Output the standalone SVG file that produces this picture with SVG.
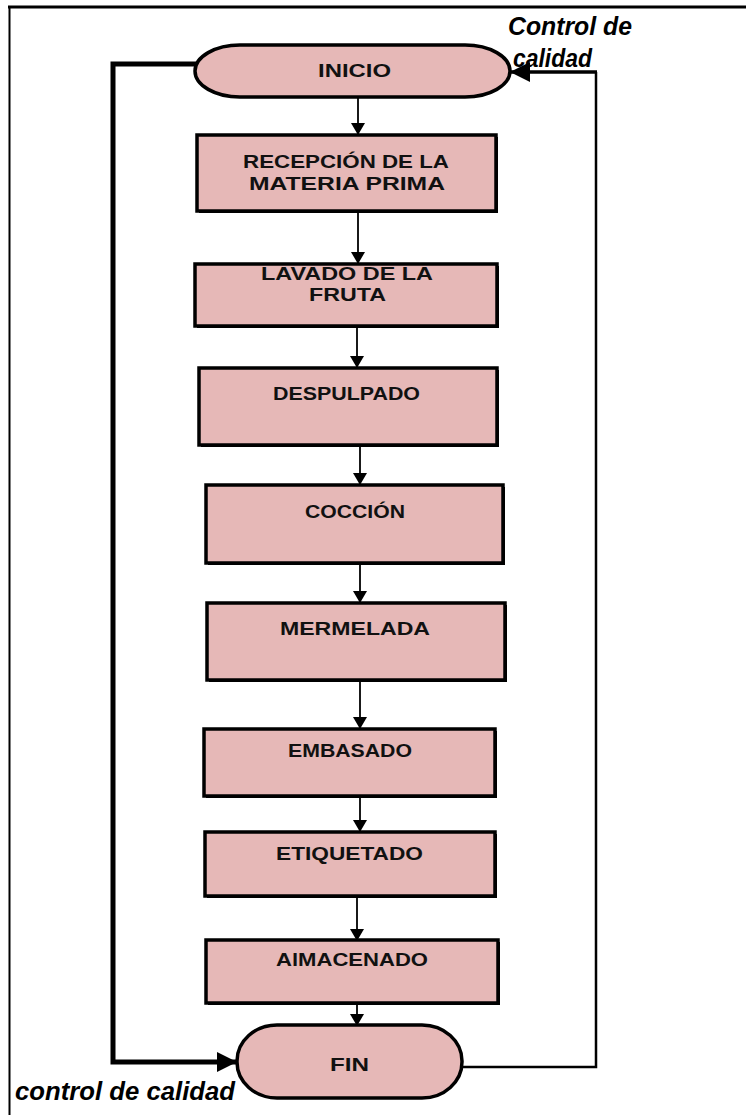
<svg xmlns="http://www.w3.org/2000/svg" width="746" height="1115" viewBox="0 0 746 1115">
<style>
.box{fill:#E6B8B7;stroke:#000;stroke-width:3.5}
.shadow{fill:#000}
.term{fill:#E6B8B7;stroke:#000;stroke-width:3.5}
.lbl{font-family:"Liberation Sans",Arial,sans-serif;font-weight:bold;font-size:19px;fill:#111}
.note{font-family:"Liberation Sans",Arial,sans-serif;font-weight:bold;font-style:italic;font-size:25px;fill:#000}
.conn{fill:none;stroke:#000;stroke-width:1.8}
.frame{stroke:#000;fill:none}
</style>
<defs>
<marker id="ah" viewBox="0 0 12 14" refX="12" refY="7" markerWidth="12" markerHeight="14" markerUnits="userSpaceOnUse" orient="auto">
<path d="M0,0 L12,7 L0,14 Z" fill="#000"/>
</marker>
<marker id="ahBig" viewBox="0 0 20 20" refX="20" refY="10" markerWidth="20" markerHeight="20" markerUnits="userSpaceOnUse" orient="auto">
<path d="M0,0 L20,10 L0,20 Z" fill="#000"/>
</marker>
</defs>
<rect width="746" height="1115" fill="#fff"/>
<g id="frame">
<line class="frame" x1="8" y1="7" x2="746" y2="7" stroke-width="3"/>
<line class="frame" x1="9.5" y1="6" x2="9.5" y2="1115" stroke-width="2"/>
</g>
<g id="connectors">
<path class="conn" d="M358,97 V135" marker-end="url(#ah)"/>
<path class="conn" d="M358,211 V264" marker-end="url(#ah)"/>
<path class="conn" d="M357,326 V368" marker-end="url(#ah)"/>
<path class="conn" d="M360,445 V485" marker-end="url(#ah)"/>
<path class="conn" d="M360,560 V603" marker-end="url(#ah)"/>
<path class="conn" d="M360,680 V729" marker-end="url(#ah)"/>
<path class="conn" d="M360,788 V832" marker-end="url(#ah)"/>
<path class="conn" d="M357,893 V941" marker-end="url(#ah)"/>
<path class="conn" d="M357,1000 V1026" marker-end="url(#ah)"/>
<path d="M196,64 H113 V1062 H237" fill="none" stroke="#000" stroke-width="5" marker-end="url(#ahBig)"/>
<path d="M462,1067 H596 V72" fill="none" stroke="#000" stroke-width="2.5"/>
<path d="M597,72 H510" fill="none" stroke="#000" stroke-width="3.5" marker-end="url(#ahBig)"/>
</g>
<g id="inicio">
<rect class="term" x="195" y="45" width="315" height="52" rx="45" ry="26"/>
<text class="lbl" x="318" y="77" font-size="16" textLength="73" lengthAdjust="spacingAndGlyphs">INICIO</text>
</g>
<g id="recepcion">
<rect class="shadow" x="199" y="137" width="299" height="76"/>
<rect class="box" x="197" y="135" width="299" height="76"/>
<text class="lbl" x="243" y="168" textLength="206" lengthAdjust="spacingAndGlyphs">RECEPCIÓN DE LA</text>
<text class="lbl" x="249" y="190" textLength="196" lengthAdjust="spacingAndGlyphs">MATERIA PRIMA</text>
</g>
<g id="lavado">
<rect class="shadow" x="197" y="266" width="302" height="62"/>
<rect class="box" x="195" y="264" width="302" height="62"/>
<text class="lbl" x="261" y="280" textLength="172" lengthAdjust="spacingAndGlyphs">LAVADO DE LA</text>
<text class="lbl" x="309" y="301" textLength="77" lengthAdjust="spacingAndGlyphs">FRUTA</text>
</g>
<g id="despulpado">
<rect class="shadow" x="201" y="370" width="298" height="77"/>
<rect class="box" x="199" y="368" width="298" height="77"/>
<text class="lbl" x="273" y="400" textLength="147" lengthAdjust="spacingAndGlyphs">DESPULPADO</text>
</g>
<g id="coccion">
<rect class="shadow" x="208" y="487" width="297" height="78"/>
<rect class="box" x="206" y="485" width="297" height="78"/>
<text class="lbl" x="305" y="518" textLength="100" lengthAdjust="spacingAndGlyphs">COCCIÓN</text>
</g>
<g id="mermelada">
<rect class="shadow" x="209" y="605" width="298" height="77"/>
<rect class="box" x="207" y="603" width="298" height="77"/>
<text class="lbl" x="280" y="635" textLength="150" lengthAdjust="spacingAndGlyphs">MERMELADA</text>
</g>
<g id="embasado">
<rect class="shadow" x="206" y="731" width="291" height="67"/>
<rect class="box" x="204" y="729" width="291" height="67"/>
<text class="lbl" x="288" y="757" textLength="124" lengthAdjust="spacingAndGlyphs">EMBASADO</text>
</g>
<g id="etiquetado">
<rect class="shadow" x="207" y="834" width="290" height="64"/>
<rect class="box" x="205" y="832" width="290" height="64"/>
<text class="lbl" x="276" y="860" textLength="147" lengthAdjust="spacingAndGlyphs">ETIQUETADO</text>
</g>
<g id="almacenado">
<rect class="shadow" x="208" y="942" width="292" height="63"/>
<rect class="box" x="206" y="940" width="292" height="63"/>
<text class="lbl" x="276" y="966" textLength="152" lengthAdjust="spacingAndGlyphs">AlMACENADO</text>
</g>
<g id="fin">
<rect class="term" x="237" y="1025" width="225" height="73" rx="40" ry="36"/>
<text class="lbl" x="330" y="1071" font-size="20" textLength="39" lengthAdjust="spacingAndGlyphs">FIN</text>
</g>
<g id="labels">
<text class="note" x="508" y="35" textLength="124" lengthAdjust="spacingAndGlyphs">Control de</text>
<text class="note" x="513" y="67" textLength="79" lengthAdjust="spacingAndGlyphs">calidad</text>
<text class="note" x="15" y="1100" textLength="220" lengthAdjust="spacingAndGlyphs">control de calidad</text>
</g>
</svg>
